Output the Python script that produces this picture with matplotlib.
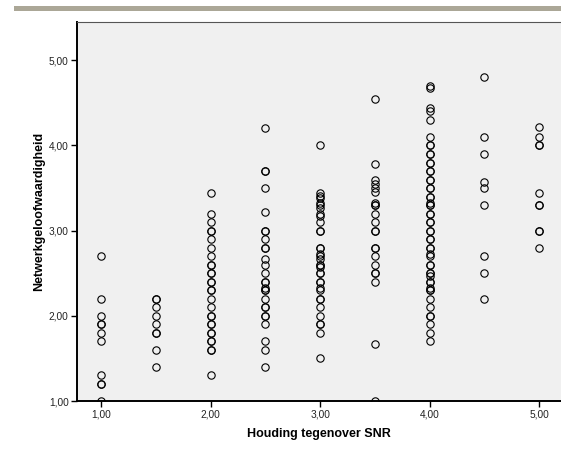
import matplotlib
matplotlib.use("Agg")
import matplotlib.pyplot as plt
from matplotlib.patches import Rectangle
from matplotlib.ticker import FixedLocator, FuncFormatter

# Data: x = Houding tegenover SNR, y = Netwerkgeloofwaardigheid
y_at_100 = [2.7, 2.2, 2.0, 1.9, 1.9, 1.8, 1.7, 1.3, 1.2, 1.2, 1.0]
y_at_150 = [2.2, 2.2, 2.1, 2.0, 1.9, 1.8, 1.8, 1.6, 1.4]
y_at_200 = [3.44, 3.2, 3.1, 3.0, 3.0, 2.9, 2.8, 2.7, 2.6, 2.6, 2.5, 2.5, 2.4, 2.4,
            2.3, 2.3, 2.2, 2.1, 2.0, 2.0, 1.9, 1.9, 1.8, 1.8, 1.7, 1.7, 1.6, 1.6, 1.3]
y_at_250 = [4.2, 3.7, 3.7, 3.5, 3.22, 3.0, 3.0, 2.9, 2.8, 2.8, 2.67, 2.6, 2.5, 2.4,
            2.4, 2.33, 2.3, 2.3, 2.2, 2.1, 2.1, 2.0, 2.0, 1.9, 1.7, 1.6, 1.4]
y_at_300 = [4.0, 3.44, 3.41, 3.38, 3.33, 3.3, 3.27, 3.2, 3.17, 3.1, 3.0, 3.0, 2.8, 2.8,
            2.73, 2.7, 2.67, 2.6, 2.6, 2.57, 2.5, 2.5, 2.4, 2.4, 2.33, 2.3, 2.2, 2.2,
            2.1, 2.0, 1.9, 1.9, 1.8, 1.5]
y_at_350 = [4.55, 3.78, 3.6, 3.55, 3.5, 3.45, 3.33, 3.3, 3.3, 3.2, 3.1, 3.0, 3.0, 2.8,
            2.8, 2.7, 2.6, 2.5, 2.5, 2.4, 1.67, 1.0]
y_at_400 = [4.7, 4.67, 4.44, 4.4, 4.3, 4.1, 4.0, 4.0, 3.9, 3.9, 3.8, 3.8, 3.7, 3.7,
            3.6, 3.6, 3.5, 3.5, 3.4, 3.4, 3.33, 3.3, 3.3, 3.2, 3.2, 3.1, 3.1, 3.0,
            3.0, 2.9, 2.9, 2.8, 2.8, 2.73, 2.7, 2.6, 2.6, 2.5, 2.5, 2.47, 2.4, 2.4,
            2.33, 2.3, 2.3, 2.2, 2.1, 2.0, 2.0, 1.9, 1.8, 1.7]
y_at_450 = [4.8, 4.1, 3.9, 3.57, 3.5, 3.3, 2.7, 2.5, 2.2]
y_at_500 = [4.22, 4.1, 4.0, 4.0, 3.44, 3.3, 3.3, 3.0, 3.0, 2.8]

x_levels = [1.0, 1.5, 2.0, 2.5, 3.0, 3.5, 4.0, 4.5, 5.0]
y_groups = [y_at_100, y_at_150, y_at_200, y_at_250, y_at_300,
            y_at_350, y_at_400, y_at_450, y_at_500]

tick_values = [1.0, 2.0, 3.0, 4.0, 5.0]
x_label = "Houding tegenover SNR"
y_label = "Netwerkgeloofwaardigheid"

plt.rcParams['font.family'] = ['Liberation Sans', 'DejaVu Sans']

fig = plt.figure(figsize=(5.61, 4.69), dpi=100)
fig.patch.set_facecolor('white')

# decorative top bar
fig.patches.append(Rectangle((14 / 561, (469 - 11) / 469), 1 - 14 / 561, 4.5 / 469,
                             transform=fig.transFigure, facecolor='#aba797',
                             edgecolor='none'))

ax = fig.add_axes([77 / 561, (469 - 401) / 469, 484 / 561, 379 / 469])
ax.set_facecolor('#f0f0f0')

xs, ys = [], []
for xv, grp in zip(x_levels, y_groups):
    for yv in grp:
        xs.append(xv)
        ys.append(yv)

ax.plot(xs, ys, linestyle='none', marker='o', markersize=5.3,
        markerfacecolor='none', markeredgecolor='black', markeredgewidth=0.8)

ax.set_xlim(0.78, 5.2)
ax.set_ylim(1.0, 5.45)

ax.xaxis.set_major_locator(FixedLocator(tick_values))
ax.yaxis.set_major_locator(FixedLocator(tick_values))
fmt = FuncFormatter(lambda v, p: f"{v:.2f}".replace('.', ','))
ax.xaxis.set_major_formatter(fmt)
ax.yaxis.set_major_formatter(fmt)

ax.tick_params(axis='both', direction='out', length=4, width=1.0,
               labelsize=7.3, colors='black', labelcolor='#222222', pad=2)

for side in ['left', 'bottom']:
    ax.spines[side].set_linewidth(1.4)
    ax.spines[side].set_color('black')
ax.spines['top'].set_linewidth(0.8)
ax.spines['top'].set_color('#555555')
ax.spines['right'].set_visible(False)

ax.set_xlabel(x_label, fontsize=9, fontweight='bold', labelpad=6)
ax.set_ylabel(y_label, fontsize=9, fontweight='bold', labelpad=3)

fig.savefig('out.png', dpi=100)
